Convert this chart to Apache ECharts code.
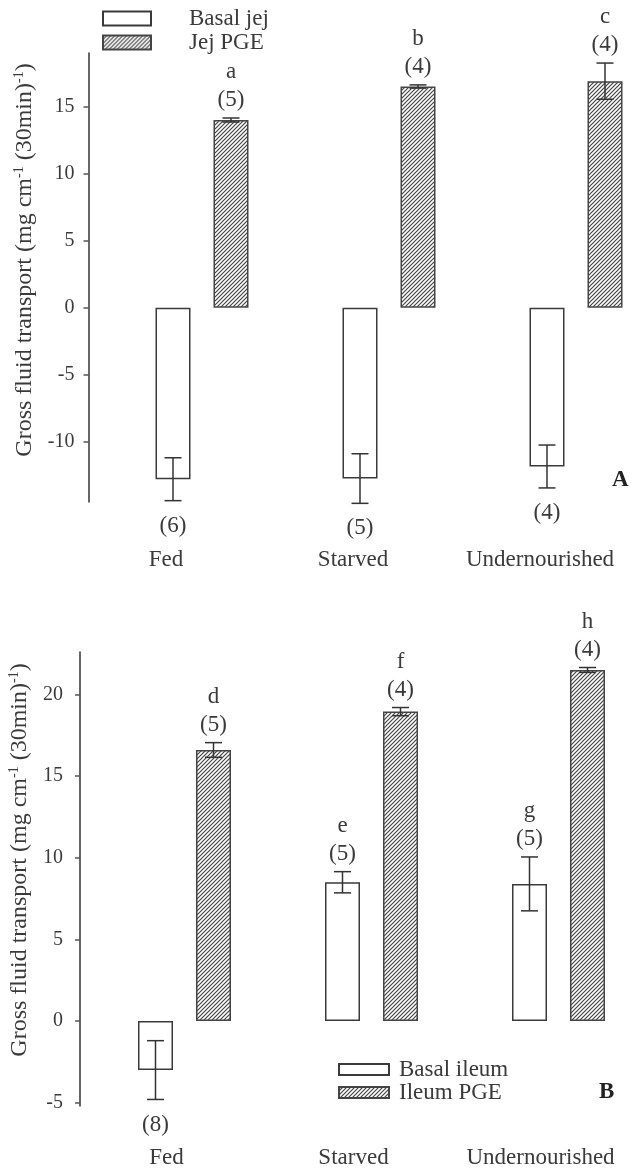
<!DOCTYPE html>
<html>
<head>
<meta charset="utf-8">
<script src="https://cdn.jsdelivr.net/npm/echarts@6/dist/echarts.min.js"></script>
<style>html,body{margin:0;padding:0;background:#fff;}#c{width:637px;height:1171px;}</style>
</head>
<body>
<div id="c"></div>
<script>
// ---- data ----
const categories = ['Fed', 'Starved', 'Undernourished'];
const yTicksA = [-10, -5, 0, 5, 10, 15];
const yTicksB = [-5, 0, 5, 10, 15, 20];

const jejBasal = [-12.8, -12.75, -11.85];
const jejBasalErr = [1.6, 1.85, 1.6];
const jejBasalN = ['(6)', '(5)', '(4)'];
const jejBasalLetters = ['', '', ''];

const jejPGE = [14.0, 16.5, 16.9];
const jejPGEErr = [0.15, 0.12, 1.35];
const jejPGEN = ['(5)', '(4)', '(4)'];
const jejPGELetters = ['a', 'b', 'c'];

const ileBasal = [-3.0, 8.5, 8.4];
const ileBasalErr = [1.8, 0.65, 1.65];
const ileBasalN = ['(8)', '(5)', '(5)'];
const ileBasalLetters = ['', 'e', 'g'];

const ilePGE = [16.6, 18.95, 21.5];
const ilePGEErr = [0.45, 0.25, 0.15];
const ilePGEN = ['(5)', '(4)', '(4)'];
const ilePGELetters = ['d', 'f', 'h'];

// ---- style constants ----
const FONT = 'Liberation Serif';
const INK = '#3a3a3a';
const BAR_W = 35, BAR_GAP = 23, CAP = 17;
const OFF = (BAR_W + BAR_GAP) / 2;

function hatch() {
  const s = 4;
  const c = document.createElement('canvas');
  c.width = s; c.height = s;
  const g = c.getContext('2d');
  g.fillStyle = '#ffffff'; g.fillRect(0, 0, s, s);
  g.strokeStyle = '#444'; g.lineWidth = 1.2;
  g.beginPath();
  g.moveTo(0, s); g.lineTo(s, 0);
  g.moveTo(-1, 1); g.lineTo(1, -1);
  g.moveTo(s - 1, s + 1); g.lineTo(s + 1, s - 1);
  g.stroke();
  return c;
}
const hatchFill = { image: hatch(), repeat: 'repeat' };

const openStyle = { color: '#ffffff', borderColor: '#3a3a3a', borderWidth: 1.5 };
const hatchStyle = { color: hatchFill, borderColor: '#444', borderWidth: 1.5 };

function makeErr(vals, errs, ns, letters, side) {
  return function (params, api) {
    const idx = params.dataIndex;
    const i = api.value(0), v = api.value(1), e = api.value(2);
    const top = api.coord([i, v + e]);
    const bot = api.coord([i, v - e]);
    const x = top[0] + side * OFF;
    const ls = { stroke: '#333', lineWidth: 1.5 };
    const kids = [
      { type: 'line', shape: { x1: x, y1: top[1], x2: x, y2: bot[1] }, style: ls },
      { type: 'line', shape: { x1: x - CAP / 2, y1: top[1], x2: x + CAP / 2, y2: top[1] }, style: ls },
      { type: 'line', shape: { x1: x - CAP / 2, y1: bot[1], x2: x + CAP / 2, y2: bot[1] }, style: ls }
    ];
    const tstyle = (t, y) => ({ type: 'text', x: x, y: y,
      style: { text: t, font: '23px "' + FONT + '"', fill: INK, align: 'center', verticalAlign: 'middle' } });
    if (v < 0) {
      kids.push(tstyle(ns[idx], bot[1] + 25));
    } else {
      kids.push(tstyle(ns[idx], top[1] - 18));
      if (letters[idx]) kids.push(tstyle(letters[idx], top[1] - 46));
    }
    return { type: 'group', children: kids };
  };
}

function errData(vals, errs) { return vals.map((v, i) => [i, v, errs[i]]); }

const supName = '{n|Gross fluid transport (mg cm}{s|-1}{n| (30min)}{s|-1}{n|)}';
const nameRich = {
  n: { fontFamily: FONT, fontSize: 24, lineHeight: 26, color: INK },
  s: { fontFamily: FONT, fontSize: 14, lineHeight: 14, verticalAlign: 'top', color: INK }
};

function yAx(gi, min, max, ticks, offset, margin, nameGap, shift) {
  return {
    type: 'value', gridIndex: gi, min: min, max: max, offset: offset,
    axisLine: { show: true, lineStyle: { color: '#333', width: 1.5 } },
    axisTick: { show: true, length: 5, customValues: ticks, lineStyle: { color: '#555', width: 1.5 } },
    axisLabel: { customValues: ticks, margin: margin, fontFamily: FONT, fontSize: 20, color: INK },
    splitLine: { show: false },
    name: supName, nameLocation: 'middle', nameRotate: 90, nameGap: nameGap,
    nameTextStyle: { rich: nameRich, padding: [0, 0, 0, shift] }
  };
}
function xAx(gi, margin, leftShift) {
  return {
    type: 'category', gridIndex: gi, data: categories,
    axisLine: { show: false }, axisTick: { show: false },
    axisLabel: { interval: 0, margin: margin, fontFamily: FONT, fontSize: 23, color: INK,
      padding: [0, leftShift * 2, 0, 0] }
  };
}

const legText = (pad) => ({ fontFamily: FONT, fontSize: 23, color: INK, padding: pad });

const option = {
  backgroundColor: '#ffffff',
  animation: false,
  grid: [
    { left: 108.5, top: 53, width: 561, height: 449, outerBoundsMode: 'none' },
    { left: 91, top: 652, width: 561, height: 454, outerBoundsMode: 'none' }
  ],
  xAxis: [xAx(0, 46, 36), xAx(1, 40, 18)],
  yAxis: [
    yAx(0, -14.5, 19, yTicksA, 20, 14, 48, 35),
    yAx(1, -5.2, 22.6, yTicksB, 11, 17, 40, 38)
  ],
  legend: [
    { data: ['Basal jej'], left: 102, top: 7, padding: 0,
      icon: 'rect', itemWidth: 48, itemHeight: 14, textStyle: legText([0, 0, 23, 33]) },
    { data: ['Jej PGE'], left: 102, top: 31, padding: 0,
      icon: 'rect', itemWidth: 48, itemHeight: 14, textStyle: legText([0, 0, 23, 33]) },
    { data: ['Basal ileum', 'Ileum PGE'], orient: 'vertical', left: 338, top: 1058, padding: 0,
      icon: 'rect', itemWidth: 50, itemHeight: 11, itemGap: 0, textStyle: legText([0, 0, 0, 5]) }
  ],
  graphic: [
    { type: 'text', left: 612, top: 469, style: { text: 'A', font: 'bold 23px "' + FONT + '"', fill: '#222' } },
    { type: 'text', left: 599, top: 1081, style: { text: 'B', font: 'bold 23px "' + FONT + '"', fill: '#222' } }
  ],
  series: [
    { name: 'Basal jej', type: 'bar', xAxisIndex: 0, yAxisIndex: 0, data: jejBasal,
      barWidth: BAR_W, barGap: (BAR_GAP / BAR_W * 100) + '%', itemStyle: openStyle },
    { name: 'Jej PGE', type: 'bar', xAxisIndex: 0, yAxisIndex: 0, data: jejPGE,
      barWidth: BAR_W, barGap: (BAR_GAP / BAR_W * 100) + '%', itemStyle: hatchStyle },
    { name: 'Basal ileum', type: 'bar', xAxisIndex: 1, yAxisIndex: 1, data: ileBasal,
      barWidth: BAR_W, barGap: (BAR_GAP / BAR_W * 100) + '%', itemStyle: openStyle },
    { name: 'Ileum PGE', type: 'bar', xAxisIndex: 1, yAxisIndex: 1, data: ilePGE,
      barWidth: BAR_W, barGap: (BAR_GAP / BAR_W * 100) + '%', itemStyle: hatchStyle },
    { type: 'custom', xAxisIndex: 0, yAxisIndex: 0, data: errData(jejBasal, jejBasalErr),
      renderItem: makeErr(jejBasal, jejBasalErr, jejBasalN, jejBasalLetters, -1), z: 5 },
    { type: 'custom', xAxisIndex: 0, yAxisIndex: 0, data: errData(jejPGE, jejPGEErr),
      renderItem: makeErr(jejPGE, jejPGEErr, jejPGEN, jejPGELetters, 1), z: 5 },
    { type: 'custom', xAxisIndex: 1, yAxisIndex: 1, data: errData(ileBasal, ileBasalErr),
      renderItem: makeErr(ileBasal, ileBasalErr, ileBasalN, ileBasalLetters, -1), z: 5 },
    { type: 'custom', xAxisIndex: 1, yAxisIndex: 1, data: errData(ilePGE, ilePGEErr),
      renderItem: makeErr(ilePGE, ilePGEErr, ilePGEN, ilePGELetters, 1), z: 5 }
  ]
};

const chart = echarts.init(document.getElementById('c'), null, { renderer: 'canvas' });
chart.setOption(option);
</script>
</body>
</html>
